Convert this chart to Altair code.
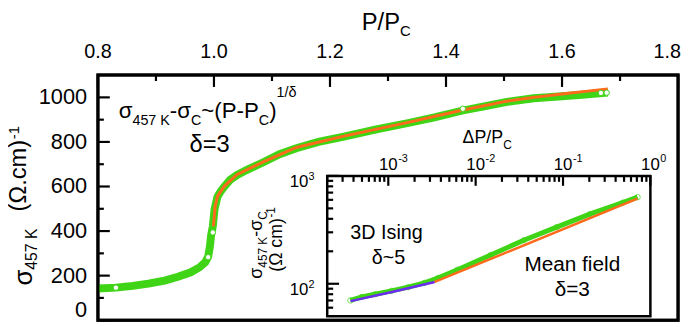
import altair as alt
import pandas as pd

FONT = "Liberation Sans"
GREEN = "#3fd416"
ORANGE = "#ff6a1c"
PURPLE = "#6a2cf0"

# ---------------- main panel: sigma_457K vs P/Pc ----------------
p_ratio = [0.800, 0.831, 0.860, 0.887, 0.915, 0.938, 0.960, 0.975, 0.985, 0.990,
           0.993, 0.995, 0.998, 1.001, 1.006, 1.012, 1.018, 1.028, 1.040, 1.057,
           1.086, 1.113, 1.142, 1.180, 1.222, 1.280, 1.335, 1.380, 1.427, 1.470,
           1.505, 1.551, 1.600, 1.640, 1.679]
sigma = [142, 146, 154, 164, 178, 195, 215, 237, 260, 285,
         330, 380, 421, 497, 554, 580, 600, 630, 652, 675,
         710, 745, 772, 800, 823, 856, 885, 910, 940, 962,
         980, 996, 1005, 1013, 1022]
fit_p = [0.999, 1.002, 1.006, 1.018, 1.040, 1.086, 1.142, 1.222, 1.335, 1.427,
         1.505, 1.551, 1.600, 1.640, 1.679]
fit_sigma = [421, 510, 556, 602, 654, 712, 775, 825, 888, 942,
             983, 1000, 1015, 1027, 1038]
open_p = [0.831, 0.990, 0.998, 1.429, 1.667, 1.677]
open_sigma = [146, 283, 394, 949, 1020, 1021]

x_major = [0.8, 1.0, 1.2, 1.4, 1.6, 1.8]
x_labels = ["0.8", "1.0", "1.2", "1.4", "1.6", "1.8"]
x_minor = [0.9, 1.1, 1.3, 1.5, 1.7]
y_major = [0, 200, 400, 600, 800, 1000]
y_labels = ["0", "200", "400", "600", "800", "1000"]
y_minor = [100, 300, 500, 700, 900]

# ---------------- inset: sigma - sigma_c vs dP/Pc (log-log) ----------------
dp = [3.68e-4, 4.99e-4, 7.07e-4, 1.09e-3, 1.69e-3, 2.6e-3, 3.69e-3, 6.2e-3,
      1.49e-2, 3.55e-2, 8.46e-2, 0.202, 0.483, 0.714]
dsig = [70, 75.7, 80, 86, 93, 102, 113, 135, 185, 253, 335, 442, 565, 635]
ising_dp = [3.7e-4, 1.1e-3, 3.4e-3]
ising_dsig = [69, 84, 104]
mf_dp = [3.4e-3, 0.0149, 0.71]
mf_dsig = [104, 170, 617]

ix_major = [1e-3, 1e-2, 1e-1, 1.0]
ix_minor = [2e-4, 3e-4, 4e-4, 5e-4, 6e-4, 7e-4, 8e-4, 9e-4,
            2e-3, 3e-3, 4e-3, 5e-3, 6e-3, 7e-3, 8e-3, 9e-3,
            2e-2, 3e-2, 4e-2, 5e-2, 6e-2, 7e-2, 8e-2, 9e-2,
            0.2, 0.3, 0.4, 0.5, 0.6, 0.7, 0.8, 0.9]
iy_major = [100, 1000]
iy_minor = [60, 70, 80, 90, 200, 300, 400, 500, 600, 700, 800, 900]
ix_label_exp = ["-3", "-2", "-1", "0"]
iy_label_exp = ["2", "3"]

# ---------------- helpers ----------------
W = {' ': 0.278, '.': 0.278, '-': 0.333, '~': 0.584, '(': 0.333, ')': 0.333, '/': 0.278,
     '=': 0.584, 'P': 0.667, 'K': 0.667, 'C': 0.722, 'D': 0.722, 'I': 0.278, 'M': 0.833,
     's': 0.5, 'i': 0.222, 'n': 0.556, 'g': 0.556, 'e': 0.556, 'a': 0.556, 'f': 0.278,
     'l': 0.222, 'd': 0.556, 'c': 0.5, 'm': 0.833, 'σ': 0.617, 'δ': 0.556, 'Ω': 0.768,
     'Δ': 0.668}


def text_width(t, size):
    return sum(W.get(ch, 0.556) for ch in t) * size


ONE = alt.Data(values=[{"k": 0}])


def seg(text, x, y, size, angle=0, align="left"):
    return alt.Chart(ONE).mark_text(
        text=text, fontSize=size, font=FONT, angle=angle, align=align,
        baseline="alphabetic", color="black"
    ).encode(x=alt.value(x), y=alt.value(y))


def rich(parts, x0, y0, rotate=False):
    out = []
    pos = 0.0
    for t, size, shift in parts:
        if rotate:
            out.append(seg(t, x0 + shift, y0 - pos, size, angle=270))
        else:
            out.append(seg(t, x0 + pos, y0 + shift, size))
        pos += text_width(t, size)
    return out


def box(x0, x1, y0, y1, sw, fill):
    return alt.Chart(ONE).mark_rect(
        fill=fill, fillOpacity=1 if fill != "transparent" else 0,
        stroke="black", strokeWidth=sw, strokeOpacity=1
    ).encode(x=alt.value(x0), x2=alt.value(x1), y=alt.value(y0), y2=alt.value(y1))


def vticks(vals, scale, top, length):
    return alt.Chart(pd.DataFrame({"v": vals})).mark_rule(
        color="black", strokeWidth=2.2, strokeOpacity=1
    ).encode(x=alt.X("v:Q", scale=scale, axis=None), y=alt.value(top), y2=alt.value(top + length))


def hticks(vals, scale, left, length):
    return alt.Chart(pd.DataFrame({"v": vals})).mark_rule(
        color="black", strokeWidth=2.2, strokeOpacity=1
    ).encode(y=alt.Y("v:Q", scale=scale, axis=None), x=alt.value(left), x2=alt.value(left + length))


PW, PH = 587, 248
xs = alt.Scale(domain=[0.8, 1.8], nice=False, zero=False)
ys = alt.Scale(domain=[0, 1100], nice=False, zero=False)

main_df = pd.DataFrame({"p": p_ratio, "s": sigma})
fit_df = pd.DataFrame({"p": fit_p, "s": fit_sigma})
open_df = pd.DataFrame({"p": open_p, "s": open_sigma})

green_main = alt.Chart(main_df).mark_line(color=GREEN, strokeWidth=8).encode(
    x=alt.X("p:Q", scale=xs, axis=alt.Axis(
        orient="top", values=x_major, format=".1f", ticks=False, domain=False, grid=False,
        labelFont=FONT, labelFontSize=20, labelColor="black", labelPadding=13, title=None)),
    y=alt.Y("s:Q", scale=ys, axis=alt.Axis(
        orient="left", values=y_major, format="d", ticks=False, domain=False, grid=False,
        labelFont=FONT, labelFontSize=22, labelColor="black", labelPadding=11, title=None)),
)
open_main = alt.Chart(open_df).mark_point(
    shape="circle", filled=True, fill="white", stroke=GREEN, strokeWidth=1, size=30, opacity=1
).encode(x=alt.X("p:Q", scale=xs), y=alt.Y("s:Q", scale=ys))
orange_main = alt.Chart(fit_df).mark_line(color=ORANGE, strokeWidth=3).encode(
    x=alt.X("p:Q", scale=xs), y=alt.Y("s:Q", scale=ys))

main_ticks = [
    vticks(x_major, xs, 0, 12),
    vticks(x_minor, xs, 0, 6),
    hticks(y_major, ys, 0, 12),
    hticks(y_minor, ys, 0, 6),
]

main_texts = []
main_texts += rich([("P/P", 24, 0), ("C", 15, 6)], 267, -46)
main_texts += rich([("σ", 26, 0), ("457 K", 16, 5)], -67, 213, rotate=True)
main_texts += rich([("(Ω.cm)", 24, 0), ("-1", 15, -7)], -73, 138, rotate=True)
main_texts += rich([("σ", 22.5, 0), ("457 K", 14.5, 7), ("-σ", 22.5, 0), ("C", 14.5, 7),
                    ("~(P-P", 22.5, 0), ("C", 14.5, 7), (")", 22.5, 0), ("1/δ", 14.5, -21)], 21, 43)
main_texts.append(seg("δ=3", 113, 78, 24, align="center"))

# tick labels placed at their values through the main scales
for i, (v, t) in enumerate(zip(x_major, x_labels)):
    last = i == len(x_major) - 1
    main_texts.append(alt.Chart(ONE).mark_text(
        text=t, fontSize=20, font=FONT, color="black", baseline="alphabetic",
        align="right" if last else "center", dx=3 if last else 0
    ).encode(x=alt.XDatum(v, scale=xs, axis=None), y=alt.value(-17)))
for i, (v, t) in enumerate(zip(y_major, y_labels)):
    first = i == 0
    main_texts.append(alt.Chart(ONE).mark_text(
        text=t, fontSize=22, font=FONT, color="black", align="right",
        baseline="alphabetic" if first else "middle", dy=-3 if first else 0
    ).encode(y=alt.YDatum(v, scale=ys, axis=None), x=alt.value(-11)))

main = alt.layer(green_main, orange_main, open_main, *main_ticks, *main_texts,
                 box(0, PW, 0, PH, 3, "transparent"))

# ---------------- inset ----------------
IX0, IX1, IY0, IY1 = 232, 559, 102, 244
ix = alt.Scale(type="log", domain=[2e-4, 1], range=[IX0, IX1], nice=False)
iy = alt.Scale(type="log", domain=[50, 1000], range=[IY1, IY0], nice=False)

inset_df = pd.DataFrame({"dp": dp, "ds": dsig})
green_in = alt.Chart(inset_df).mark_line(color=GREEN, strokeWidth=5).encode(
    x=alt.X("dp:Q", scale=ix, axis=None), y=alt.Y("ds:Q", scale=iy, axis=None))
green_pts = alt.Chart(inset_df).mark_point(
    shape="circle", filled=False, stroke=GREEN, strokeWidth=1, size=30
).encode(x=alt.X("dp:Q", scale=ix, axis=None), y=alt.Y("ds:Q", scale=iy, axis=None))
ising_line = alt.Chart(pd.DataFrame({"dp": ising_dp, "ds": ising_dsig})).mark_line(
    color=PURPLE, strokeWidth=2.5).encode(
    x=alt.X("dp:Q", scale=ix, axis=None), y=alt.Y("ds:Q", scale=iy, axis=None))
mf_line = alt.Chart(pd.DataFrame({"dp": mf_dp, "ds": mf_dsig})).mark_line(
    color=ORANGE, strokeWidth=2.5).encode(
    x=alt.X("dp:Q", scale=ix, axis=None), y=alt.Y("ds:Q", scale=iy, axis=None))

inset_ticks = [
    vticks(ix_major, ix, IY0, 10),
    vticks(ix_minor, ix, IY0, 6),
    hticks(iy_major, iy, IX0, 12),
    hticks(iy_minor, iy, IX0, 6),
]

inset_texts = []
for v, e in zip(ix_major, ix_label_exp):
    inset_texts.append(alt.Chart(ONE).mark_text(
        text="10", fontSize=17, font=FONT, align="center", baseline="alphabetic", color="black"
    ).encode(x=alt.XDatum(v, scale=ix), y=alt.value(96)))
    inset_texts.append(alt.Chart(ONE).mark_text(
        text=e, fontSize=11, font=FONT, align="left", baseline="alphabetic", color="black", dx=10
    ).encode(x=alt.XDatum(v, scale=ix), y=alt.value(88)))
for v, e in zip(iy_major, iy_label_exp):
    inset_texts.append(alt.Chart(ONE).mark_text(
        text="10", fontSize=17, font=FONT, align="right", baseline="alphabetic", color="black",
        dx=-19, dy=11
    ).encode(x=alt.XDatum(2e-4, scale=ix), y=alt.YDatum(v, scale=iy)))
    inset_texts.append(alt.Chart(ONE).mark_text(
        text=e, fontSize=11, font=FONT, align="left", baseline="alphabetic", color="black",
        dx=-19, dy=4
    ).encode(x=alt.XDatum(2e-4, scale=ix), y=alt.YDatum(v, scale=iy)))

inset_texts += rich([("ΔP/P", 18, 0), ("C", 12, 6)], 369, 69)
inset_texts += rich([("σ", 18, 0), ("457 K", 12, 5), ("-σ", 18, 0), ("C", 12, 5)], 166, 206, rotate=True)
inset_texts += rich([("(Ω cm)", 18, 0), ("-1", 12, -7)], 186, 199, rotate=True)
inset_texts.append(seg("3D Ising", 292, 166, 20, align="center"))
inset_texts.append(seg("δ~5", 294, 191, 20, align="center"))
inset_texts.append(seg("Mean field", 480, 198, 21, align="center"))
inset_texts.append(seg("δ=3", 480, 224, 21, align="center"))

inset = alt.layer(box(IX0, IX1, IY0, IY1, 2.5, "white"), green_in, green_pts, ising_line, mf_line,
                  *inset_ticks, *inset_texts)

chart = alt.layer(main, inset).resolve_scale(x="independent", y="independent").properties(
    width=PW, height=PH,
    autosize=alt.AutoSizeParams(type="none"),
    padding={"left": 91, "top": 66, "right": 5, "bottom": 5},
).configure_view(stroke="black", strokeWidth=3)

chart.save("out.html", embed_options={"renderer": "svg", "actions": False})
